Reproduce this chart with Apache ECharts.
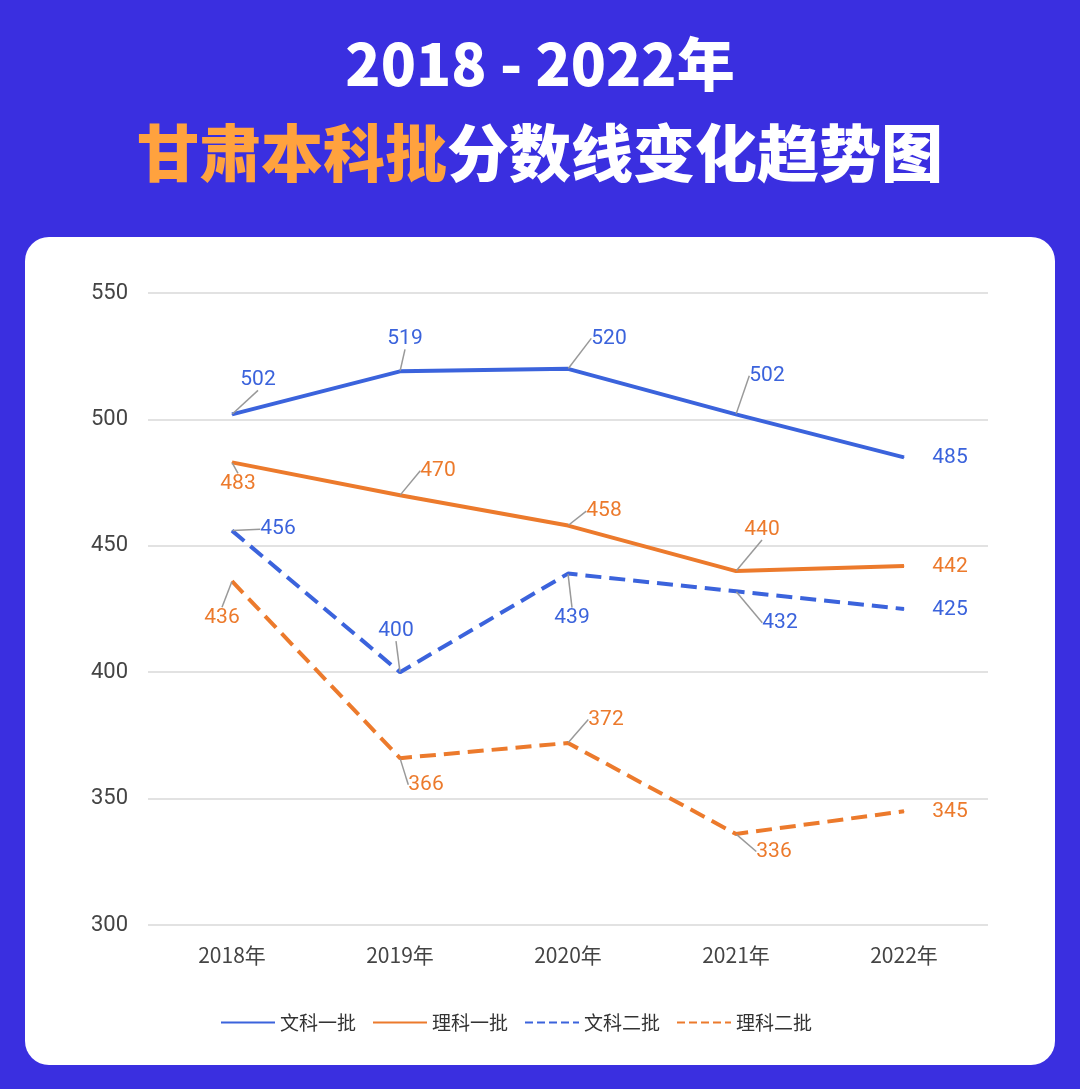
<!DOCTYPE html>
<html><head><meta charset="utf-8">
<script src="https://cdn.jsdelivr.net/npm/echarts@6/dist/echarts.min.js"></script>
<style>html,body{margin:0;padding:0;background:#3a2fe0;}#c{width:1080px;height:1089px;}</style>
</head><body><div id="c"></div>
<script>
const categories = ['2018年','2019年','2020年','2021年','2022年'];
const seriesNames = ['文科一批','理科一批','文科二批','理科二批'];
const wen1 = [502,519,520,502,485];
const li1 = [483,470,458,440,442];
const wen2 = [456,400,439,432,425];
const li2 = [436,366,372,336,345];
const offsets = [
 [[26,-35],[5,-33],[41,-31],[31,-39],[46,0]],
 [[6,21],[38,-25],[36,-15],[26,-42],[46,0]],
 [[46,-2],[-4,-42],[4,44],[44,31],[46,0]],
 [[-10,36],[26,26],[38,-24],[38,17],[46,0]]
];
const BLUE='#3b63dc', ORANGE='#ec7a2c';
const colors=[BLUE,ORANGE,BLUE,ORANGE];
const types=['solid','solid','dashed','dashed'];
const datas=[wen1,li1,wen2,li2];
const chart = echarts.init(document.getElementById('c'));
chart.setOption({
 backgroundColor:'#3a2fe0',
 graphic:[
  {type:'rect',shape:{x:25,y:237,width:1030,height:828,r:24},style:{fill:'#fff'},z:-10},
  {type:'text',left:'center',top:35,style:{text:'2018 - 2022年',fill:'#fff',font:'900 58px "Noto Sans CJK SC"'}},
  {type:'text',left:'center',top:122,style:{text:'{o|甘肃本科批}{w|分数线变化趋势图}',rich:{o:{fill:'#ffa23e',font:'900 62px "Noto Sans CJK SC"'},w:{fill:'#fff',font:'900 62px "Noto Sans CJK SC"'}}}},
  {type:'text',right:28,top:1030,style:{text:'知乎 @枫居酒屋',fill:'rgba(255,255,255,0.85)',font:'24px "Noto Sans CJK SC"'}}
 ],
 grid:{left:148,right:92,top:293,bottom:164},
 legend:{bottom:52,left:215,itemWidth:54,itemHeight:14,itemGap:16,itemStyle:{opacity:0},
   textStyle:{fontSize:19,color:'#333',fontFamily:'"Noto Sans CJK SC"'},data:seriesNames},
 xAxis:{type:'category',data:categories,axisLine:{show:false},axisTick:{show:false},
   axisLabel:{fontSize:21,color:'#444',margin:20,fontFamily:'"Noto Sans CJK SC"'}},
 yAxis:{type:'value',min:300,max:550,interval:50,axisLabel:{fontSize:22,color:'#444',margin:20,fontFamily:'Roboto'},
   splitLine:{lineStyle:{color:'#d8d8d8',width:1.5}}},
 series:datas.map((d,i)=>({
   name:seriesNames[i],type:'line',
   data:d.map((v,j)=>j===d.length-1?{value:v,labelLine:{show:false}}:v),
   symbol:'circle',symbolSize:1,showSymbol:true,
   lineStyle:{width:4,color:colors[i],type:types[i]},itemStyle:{color:colors[i]},
   label:{show:true,color:colors[i],fontSize:21,fontFamily:'Roboto',position:'top',distance:0},
   labelLine:{show:true,lineStyle:{color:'#999',width:1.5}},
   labelLayout:(p)=>{const o=offsets[i][p.dataIndex];
     return {x:p.rect.x+p.rect.width/2+o[0],y:p.rect.y+p.rect.height+o[1],align:'center',verticalAlign:'middle'};}
 }))
});
</script></body></html>
